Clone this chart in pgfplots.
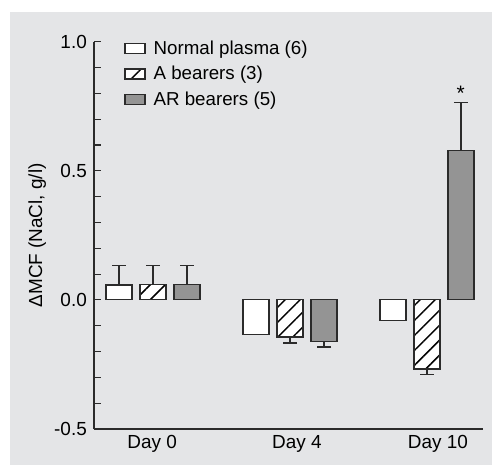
\documentclass[border=0pt]{standalone}
\usepackage{pgfplots}
\pgfplotsset{compat=1.18}
\usepackage{pgfplotstable}
\usepackage{fontspec}
\setmainfont{Liberation Sans}
\usetikzlibrary{patterns.meta}

\definecolor{bg}{HTML}{E4E5E7}
\definecolor{barg}{HTML}{949494}
\definecolor{edge}{HTML}{2B2B2B}

% x: 0 = Day 0, 1 = Day 4, 2 = Day 10; ep/em = upper/lower error
\pgfplotstableread{
x y ep em
0 0.058 0.075 0
1 -0.133 0 0
2 -0.081 0 0
}\normal
\pgfplotstableread{
x y ep em
0 0.060 0.073 0
1 -0.144 0 0.023
2 -0.268 0 0.020
}\abear
\pgfplotstableread{
x y ep em
0 0.060 0.073 0
1 -0.160 0 0.022
2 0.579 0.186 0
}\arbear

\begin{document}
\begin{tikzpicture}
\useasboundingbox (0,0) rectangle (492bp,465bp);
\fill[bg] (10bp,0) rectangle (492bp,453bp);
\begin{axis}[
    at={(94bp,36bp)}, anchor=south west,
    scale only axis, width=389bp, height=387.3bp,
    xmin=-0.431, xmax=2.409, ymin=-0.5, ymax=1.0,
    axis lines*=left,
    axis line style={-, line width=1.2bp, draw=edge},
    ybar=8bp, bar width=26bp,
    xtick={-0.007,1.05,2.08},
    xticklabels={Day 0, Day 4, Day 10},
    x tick style={draw=none},
    xticklabel style={inner sep=0pt, yshift=-6bp},
    ytick={-0.5,0,0.5,1},
    yticklabels={-0.5,0.0,0.5,1.0},
    minor y tick num=4,
    tick align=inside, ytick pos=left,
    major tick length=7bp, minor tick length=7bp,
    y tick style={line width=1.1bp, draw=edge},
    yticklabel style={inner sep=0pt, xshift=-7bp},
    ylabel={ΔMCF (NaCl, g/l)},
    ylabel style={at={(axis description cs:-0.146,0.5)}, anchor=center},
    tick label style={font=\fontsize{19}{21}\selectfont},
    label style={font=\fontsize{19}{21}\selectfont},
    clip=false,
    legend style={at={(axis description cs:0.07,1.013)}, anchor=north west,
        draw=none, fill=none, row sep=6.5bp, column sep=6bp,
        font=\fontsize{18.8}{20}\selectfont,
        nodes={inner sep=2bp}},
    legend cell align=left,
    legend image code/.code={\draw[#1] (0bp,-5bp) rectangle (20bp,5bp);},
    error bars/y dir=both, error bars/y explicit,
    error bars/error bar style={line width=1.3bp, draw=edge},
    error bars/error mark options={rotate=90, mark size=7bp, line width=1.3bp, draw=edge},
]
\addplot[draw=edge, line width=1.2bp, fill=white]
    table[x=x, y=y, y error plus=ep, y error minus=em]{\normal};
\addlegendentry{Normal plasma (6)}
\addplot[draw=edge, line width=1.2bp, fill=white,
    postaction={pattern={Lines[angle=45, distance=10.6bp, line width=1.5bp]}, pattern color=black}]
    table[x=x, y=y, y error plus=ep, y error minus=em]{\abear};
\addlegendentry{A bearers (3)}
\addplot[draw=edge, line width=1.2bp, fill=barg]
    table[x=x, y=y, y error plus=ep, y error minus=em]{\arbear};
\addlegendentry{AR bearers (5)}
\node[font=\fontsize{21}{23}\selectfont] at (axis cs:2.247,0.80) {*};
\end{axis}
\end{tikzpicture}
\end{document}
